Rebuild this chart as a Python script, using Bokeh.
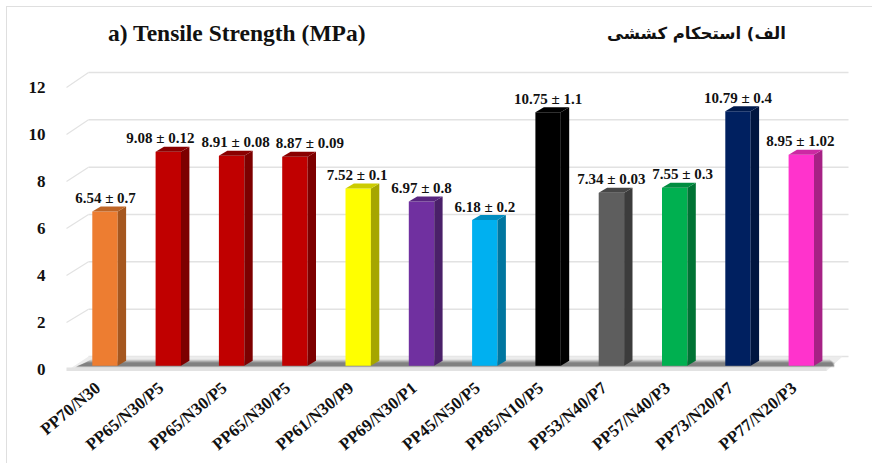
from bokeh.plotting import figure
from bokeh.embed import file_html
from bokeh.resources import INLINE
from bokeh.models import ColumnDataSource, Range1d, LinearAxis, FixedTicker, Label
from bokeh.core.properties import value
import math

categories = ["PP70/N30", "PP65/N30/P5", "PP65/N30/P5", "PP65/N30/P5", "PP61/N30/P9", "PP69/N30/P1",
              "PP45/N50/P5", "PP85/N10/P5", "PP53/N40/P7", "PP57/N40/P3", "PP73/N20/P7", "PP77/N20/P3"]
means = [6.54, 9.08, 8.91, 8.87, 7.52, 6.97, 6.18, 10.75, 7.34, 7.55, 10.79, 8.95]
errors = ["0.7", "0.12", "0.08", "0.09", "0.1", "0.8", "0.2", "1.1", "0.03", "0.3", "0.4", "1.02"]
y_ticks = [0, 2, 4, 6, 8, 10, 12]
front_colors = ["#ED7D31", "#C00000", "#C00000", "#C00000", "#FFFF00", "#7030A0",
                "#00B0F0", "#000000", "#5E5E5E", "#00B050", "#002060", "#FF33CC"]
side_colors = ["#A5571F", "#7D0000", "#7D0000", "#7D0000", "#A6A600", "#4A2069",
               "#0076A0", "#000000", "#3C3C3C", "#007334", "#00153F", "#A62185"]
top_colors = ["#BE6526", "#8A0000", "#8A0000", "#8A0000", "#CCCC00", "#592680",
              "#008DC0", "#000000", "#474747", "#008D40", "#001A4D", "#CC29A3"]
label_shift_px = [0.5, -8, 4, 15, -1, 0, 0, 0, 0, 8, 0, -1]

SERIF = "Liberation Serif"
ORIGIN = 7                        # the figure starts here, its outline sits just outside
W, H = 873 - ORIGIN, 464 - ORIGIN
PX_X, PX_Y = 63.3, 23.58          # pixels per category, pixels per unit
ABS_X0, ABS_Y0 = 104.5, 365.3     # window position of first bar centre, value 0
FRAME_L, FRAME_R, FRAME_T, FRAME_B = 60, 873, 8, 375
HALF = 12.7 / PX_X
DX, DY = 8.4 / PX_X, 5 / PX_Y     # 3D depth of a bar
BACK_DY = 9.3 / PX_Y
TICK_LABEL_SHIFT = 7 / PX_X


def fx(px):
    return (px - ABS_X0) / PX_X


def fy(py):
    return (ABS_Y0 - py) / PX_Y


p = figure(width=W, height=H, output_backend="svg", toolbar_location=None,
           x_range=Range1d(fx(FRAME_L), fx(FRAME_R)), y_range=Range1d(fy(FRAME_B), fy(FRAME_T)),
           x_axis_location=None, y_axis_location=None,
           min_border_left=FRAME_L - ORIGIN, min_border_right=0, min_border_top=FRAME_T - ORIGIN,
           min_border_bottom=ORIGIN + H - FRAME_B, outline_line_color=None,
           background_fill_color="white", border_fill_color="white",
           styles={"margin-left": f"{ORIGIN}px", "margin-top": f"{ORIGIN}px",
                   "box-shadow": "-1px -1px 0 #dfdfdf"})
p.grid.visible = False

# value axis sits on the front edge of the floor
AX0, AX12 = 369.0, 87.0
ax_scale = (AX0 - AX12) / 12
p.extra_y_ranges = {"front": Range1d((AX0 - FRAME_B) / ax_scale, (AX0 - FRAME_T) / ax_scale)}
yax = LinearAxis(y_range_name="front", ticker=FixedTicker(ticks=y_ticks),
                 axis_line_color=None, major_tick_line_color=None, minor_tick_line_color=None,
                 major_label_standoff=9, major_label_text_font=SERIF, major_label_text_font_style="bold",
                 major_label_text_font_size="17px", major_label_text_color="#111111")
p.add_layout(yax, "left")

p.extra_x_ranges = {"labels": Range1d(fx(FRAME_L) + TICK_LABEL_SHIFT, fx(FRAME_R) + TICK_LABEL_SHIFT)}
xax = LinearAxis(x_range_name="labels", ticker=FixedTicker(ticks=list(range(len(categories)))),
                 major_label_overrides={i: c for i, c in enumerate(categories)},
                 major_label_orientation=math.radians(40),
                 major_label_text_font=SERIF, major_label_text_font_style="bold",
                 major_label_text_font_size="17px", major_label_text_color="#111111",
                 major_label_standoff=4, axis_line_color=None,
                 major_tick_line_color=None, minor_tick_line_color=None)
p.add_layout(xax, "below")

# back wall grid lines and their diagonal returns
grid_y = [t * 23.67 / PX_Y + BACK_DY for t in y_ticks]
GRID = "#e2e2e2"
p.segment(x0=[fx(88)] * 7, x1=[fx(848)] * 7, y0=grid_y, y1=grid_y, line_color=GRID, line_width=1.5)
p.segment(x0=[fx(66)] * 6, x1=[fx(88)] * 6, y0=[fy(AX0 - t * ax_scale) for t in y_ticks[1:]],
          y1=grid_y[1:], line_color=GRID, line_width=1.2)

# floor
p.patch(x=[fx(66), fx(88), fx(842), fx(826)], y=[fy(370.5), fy(356), fy(356), fy(370.5)],
        fill_color="#ececec", line_color=None)
p.patch(x=[fx(66), fx(826), fx(826), fx(66)], y=[fy(370.5), fy(370.5), fy(367), fy(367)],
        fill_color="#e2e2e2", line_color=None)
for top, bot, a in [(359, 367, 0.10), (360, 366.5, 0.13), (361, 366, 0.16), (362, 365.5, 0.16)]:
    p.patch(x=[fx(76 + (366 - bot) * 1.5), fx(80 + (366 - top) * 1.5), fx(840 - (366 - top) * 1.5 + 0), fx(834)],
            y=[fy(bot), fy(top), fy(top), fy(bot)], fill_color="black", fill_alpha=a, line_color=None)

# bars
xs = list(range(len(means)))
p.quad(left=[x - HALF for x in xs], right=[x + HALF for x in xs], bottom=[0] * len(xs), top=means,
       fill_color=front_colors, line_color=None)
p.patches(xs=[[x + HALF, x + HALF + DX, x + HALF + DX, x + HALF] for x in xs],
          ys=[[0, DY, m + DY, m] for m in means], fill_color=side_colors, line_color=None)
p.patches(xs=[[x - HALF, x - HALF + DX, x + HALF + DX, x + HALF] for x in xs],
          ys=[[m, m + DY, m + DY, m] for m in means], fill_color=top_colors, line_color=None)

# value labels
labels = ColumnDataSource(dict(
    x=[x + s / PX_X for x, s in zip(xs, label_shift_px)],
    y=[m + 13.5 / PX_Y for m in means],
    t=[f"{m:.2f} ± {e}" for m, e in zip(means, errors)]))
p.text(x="x", y="y", text="t", source=labels, text_align="center", text_baseline="middle",
       text_font=value(SERIF), text_font_style="bold", text_font_size="15px", text_color="#111111")

# titles
p.add_layout(Label(x=(105 + 368) / 2 - FRAME_L, y=FRAME_B - 32, x_units="screen", y_units="screen",
                   text="a) Tensile Strength (MPa)", text_align="center", text_baseline="middle",
                   text_font=SERIF, text_font_style="bold", text_font_size="23.5px", text_color="#111111"))
p.add_layout(Label(x=(606 + 786) / 2 - FRAME_L, y=FRAME_B - 33, x_units="screen", y_units="screen",
                   text="الف) استحکام کششی", text_align="center", text_baseline="middle",
                   text_font="DejaVu Sans", text_font_style="bold", text_font_size="16.5px", text_color="#111111"))

open("out.html", "w").write(file_html(p, INLINE))
